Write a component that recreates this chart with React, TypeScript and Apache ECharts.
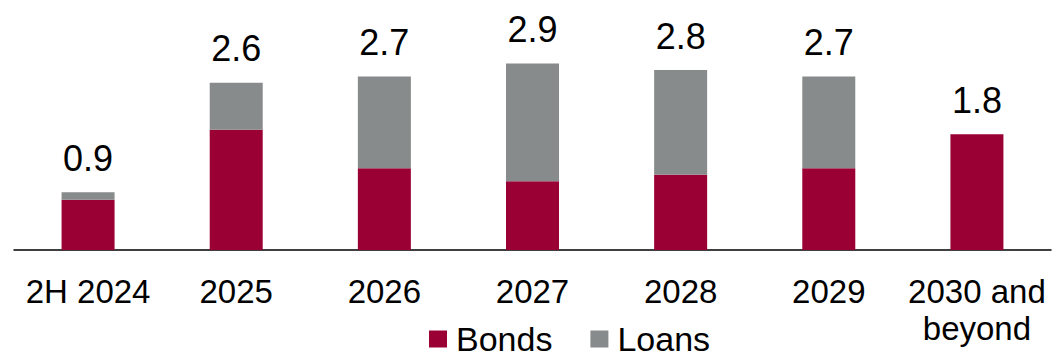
import React, { useEffect, useRef } from "react";
import * as echarts from "echarts";

const categories = ["2H 2024", "2025", "2026", "2027", "2028", "2029", "2030 and\nbeyond"];
const bonds = [0.78, 1.87, 1.27, 1.07, 1.17, 1.27, 1.8];
const loans = [0.12, 0.73, 1.43, 1.83, 1.63, 1.43, 0];

const BOND_COLOR = "#9B0034";
const LOAN_COLOR = "#888B8B";
const FONT = "'Liberation Sans', Arial, sans-serif";

export default function App() {
  const ref = useRef<HTMLDivElement>(null);

  useEffect(() => {
    document.body.style.margin = "0";
    if (!ref.current) return;
    const chart = echarts.init(ref.current, undefined, { renderer: "svg" });
    chart.setOption({
      animation: false,
      textStyle: { fontFamily: FONT, color: "#000" },
      grid: { left: 14, right: 2, top: 25, bottom: 108 },
      legend: {
        data: ["Bonds", "Loans"],
        left: 429,
        top: 322,
        padding: 0,
        itemWidth: 18,
        itemHeight: 17,
        itemGap: 38,
        icon: "rect",
        textStyle: {
          fontSize: 34,
          lineHeight: 34,
          fontFamily: FONT,
          color: "#000",
          padding: [0, 0, 0, 4],
        },
      },
      xAxis: {
        type: "category",
        data: categories,
        axisLine: { lineStyle: { color: "#000", width: 1.5 } },
        axisTick: { show: false },
        axisLabel: {
          interval: 0,
          fontSize: 33,
          lineHeight: 37,
          margin: 23,
          color: "#000",
          fontFamily: FONT,
        },
      },
      yAxis: {
        type: "value",
        min: 0,
        max: 3.5,
        show: false,
        splitLine: { show: false },
      },
      series: [
        {
          name: "Bonds",
          type: "bar",
          stack: "total",
          barWidth: 53,
          data: bonds,
          itemStyle: { color: BOND_COLOR },
        },
        {
          name: "Loans",
          type: "bar",
          stack: "total",
          barWidth: 53,
          data: loans,
          itemStyle: { color: LOAN_COLOR },
          label: {
            show: true,
            position: "top",
            distance: 16,
            fontSize: 36,
            color: "#000",
            fontFamily: FONT,
            formatter: (p: any) => (bonds[p.dataIndex] + loans[p.dataIndex]).toFixed(1),
          },
        },
      ],
    });
    return () => chart.dispose();
  }, []);

  return <div ref={ref} style={{ width: 1053, height: 358 }} />;
}
